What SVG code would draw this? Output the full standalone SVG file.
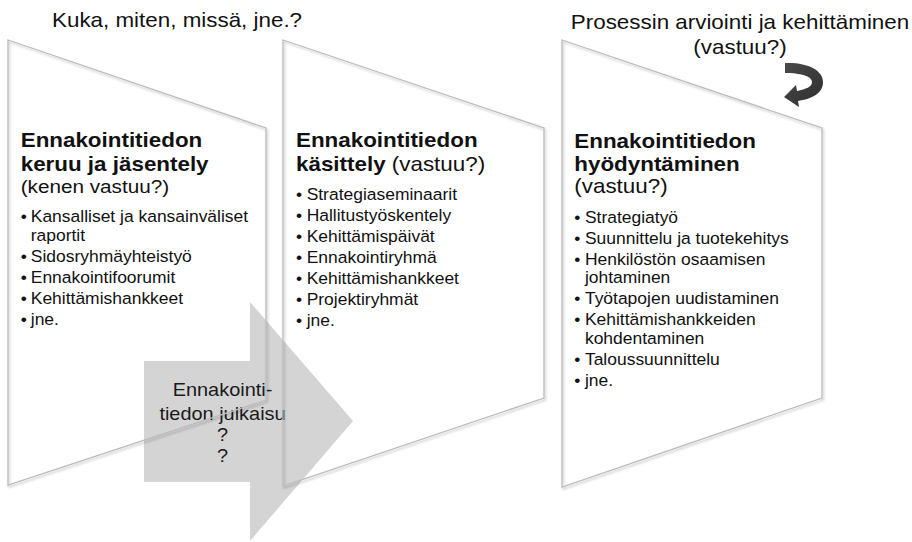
<svg xmlns="http://www.w3.org/2000/svg" width="912" height="542" viewBox="0 0 912 542">
<defs>
<style>
text{font-family:"Liberation Sans",Arial,sans-serif;fill:#111}
.h{font-size:20px;font-weight:bold}
.sub{font-size:20px}
.b{font-size:15.6px}
.ttl{font-size:20px}
.at{font-size:17.8px;text-anchor:middle;fill:#1a1a1a}
.panel{fill:none;stroke:#bcbcbc;stroke-width:1.3;filter:url(#sh)}
</style>
<filter id="sh" x="-5%" y="-5%" width="115%" height="115%">
<feDropShadow dx="1.2" dy="1.8" stdDeviation="1.2" flood-color="#000" flood-opacity="0.25"/>
</filter>
<linearGradient id="cg" x1="0" y1="0" x2="1" y2="1">
<stop offset="0" stop-color="#4a4a4a"/>
<stop offset="1" stop-color="#2e2e2e"/>
</linearGradient>
</defs>
<rect width="912" height="542" fill="#fff"/>

<g id="title-left" transform="translate(52,0) scale(1.12,1)">
<text class="ttl" x="0" y="27">Kuka, miten, missä, jne.?</text>
</g>
<g id="title-right" transform="translate(740,0) scale(1.12,1)">
<text class="ttl" x="0" y="29" text-anchor="middle">Prosessin arviointi ja kehittäminen</text>
<text class="ttl" x="0" y="54" text-anchor="middle">(vastuu?)</text>
</g>

<g id="publish-arrow">
<polygon points="144,361 250,361 250,302 353,421 250,541 250,482 144,482" fill="#d4d4d4"/>
<g transform="translate(222.5,0) scale(1.12,1)">
<text class="at" x="0" y="396">Ennakointi-</text>
<text class="at" x="0" y="420">tiedon julkaisu</text>
<text class="at" x="0" y="441">?</text>
<text class="at" x="0" y="462">?</text>
</g>
</g>

<g id="panel-collect">
<polygon class="panel" points="8,40 266,128 266,400 8,485"/>
<g transform="translate(20.7,0) scale(1.12,1)">
<text class="h" x="0" y="147">Ennakointitiedon</text>
<text class="h" x="0" y="171">keruu ja jäsentely</text>
<text class="sub" x="0" y="193" style="font-size:18.5px">(kenen vastuu?)</text>
<text class="b" x="0" y="222.5">•</text><text class="b" x="9" y="222.5">Kansalliset ja kansainväliset</text>
<text class="b" x="9" y="241.5">raportit</text>
<text class="b" x="0" y="262">•</text><text class="b" x="9" y="262">Sidosryhmäyhteistyö</text>
<text class="b" x="0" y="283">•</text><text class="b" x="9" y="283">Ennakointifoorumit</text>
<text class="b" x="0" y="304">•</text><text class="b" x="9" y="304">Kehittämishankkeet</text>
<text class="b" x="0" y="325">•</text><text class="b" x="9" y="325">jne.</text>
</g>
</g>

<g id="panel-process">
<polygon class="panel" points="283,40 544,128 544,398 283,486"/>
<g transform="translate(296,0) scale(1.12,1)">
<text class="h" x="0" y="147">Ennakointitiedon</text>
<text x="0" y="171"><tspan class="h">käsittely</tspan><tspan class="sub"> (vastuu?)</tspan></text>
<text class="b" x="0" y="200">•</text><text class="b" x="9.5" y="200">Strategiaseminaarit</text>
<text class="b" x="0" y="221">•</text><text class="b" x="9.5" y="221">Hallitustyöskentely</text>
<text class="b" x="0" y="242">•</text><text class="b" x="9.5" y="242">Kehittämispäivät</text>
<text class="b" x="0" y="263">•</text><text class="b" x="9.5" y="263">Ennakointiryhmä</text>
<text class="b" x="0" y="284">•</text><text class="b" x="9.5" y="284">Kehittämishankkeet</text>
<text class="b" x="0" y="305">•</text><text class="b" x="9.5" y="305">Projektiryhmät</text>
<text class="b" x="0" y="326">•</text><text class="b" x="9.5" y="326">jne.</text>
</g>
</g>

<g id="panel-use">
<polygon class="panel" points="562,40 822,128 822,398 562,487"/>
<g transform="translate(574.3,0) scale(1.12,1)">
<text class="h" x="0" y="148">Ennakointitiedon</text>
<text class="h" x="0" y="171">hyödyntäminen</text>
<text class="sub" x="0" y="193">(vastuu?)</text>
<text class="b" x="0" y="223">•</text><text class="b" x="9.5" y="223">Strategiatyö</text>
<text class="b" x="0" y="244.5">•</text><text class="b" x="9.5" y="244.5">Suunnittelu ja tuotekehitys</text>
<text class="b" x="0" y="265">•</text><text class="b" x="9.5" y="265">Henkilöstön osaamisen</text>
<text class="b" x="9.5" y="283.5">johtaminen</text>
<text class="b" x="0" y="304.5">•</text><text class="b" x="9.5" y="304.5">Työtapojen uudistaminen</text>
<text class="b" x="0" y="325.5">•</text><text class="b" x="9.5" y="325.5">Kehittämishankkeiden</text>
<text class="b" x="9.5" y="344">kohdentaminen</text>
<text class="b" x="0" y="365">•</text><text class="b" x="9.5" y="365">Taloussuunnittelu</text>
<text class="b" x="0" y="386.5">•</text><text class="b" x="9.5" y="386.5">jne.</text>
</g>
</g>

<g id="connectors">
<path d="M785,63 C807,62 823,70 823,82 C823,94 811,99 798,101 L799,107 L784,97 L796,85 L797,91 C806,89 812,87 812,82 C812,76 800,73 785,73 Z" fill="url(#cg)"/>
</g>
</svg>
